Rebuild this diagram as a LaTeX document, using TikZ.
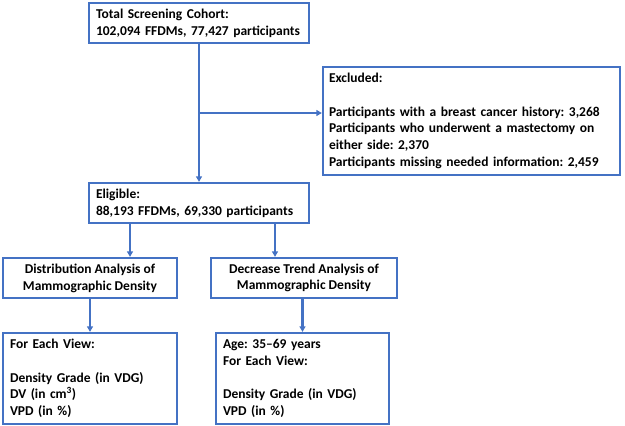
\documentclass[tikz,border=0pt]{standalone}
\usepackage{fontspec}
\setmainfont{Carlito}
\usetikzlibrary{arrows.meta,calc}
\definecolor{fcblue}{HTML}{4472C4}
\frenchspacing
\tikzset{
  box/.style={draw=fcblue, line width=2.3pt, rectangle, inner xsep=6pt, inner ysep=0pt,
    font=\bfseries\fontsize{13.5}{16.8}\selectfont},
  lbox/.style={box, align=left},
  cbox/.style={box, align=center},
  arr/.style={draw=fcblue, line width=2.2pt, -{Triangle[length=5.5pt,width=6pt]}},
}
\begin{document}
\begin{tikzpicture}[x=1pt,y=-1pt]
\useasboundingbox (0,0) rectangle (625,426);
\node[lbox, minimum width=220, minimum height=40, text width=206] (total) at (199,23)
  {Total Screening Cohort:\\102,094 FFDMs, 77,427 participants};
\node[lbox, minimum width=297, minimum height=108, text width=285] (excl) at (471.5,121)
  {Excluded:\\[16.5pt]Participants with a breast cancer history: 3,268\\Participants who underwent a mastectomy on\\either side: 2,370\\Participants missing needed information: 2,459};
\node[lbox, minimum width=220, minimum height=40, text width=206] (elig) at (199,203)
  {Eligible:\\88,193 FFDMs, 69,330 participants};
\node[cbox, minimum width=174, minimum height=40] (dist) at (90,278)
  {Distribution Analysis of\\Mammographic Density};
\node[cbox, minimum width=186, minimum height=40] (decr) at (304,278)
  {Decrease Trend Analysis of\\Mammographic Density};
\node[lbox, minimum width=174, minimum height=91, text width=160] (bl) at (90,378.5)
  {For Each View:\\[16.5pt]Density Grade (in VDG)\\DV (in cm\textsuperscript{3})\\VPD (in \%)};
\node[lbox, minimum width=173, minimum height=91, text width=159] (br) at (302.5,378.5)
  {Age: 35--69 years\\For Each View:\\[16.5pt]Density Grade (in VDG)\\VPD (in \%)};
\coordinate (branch) at (199,113);
\draw[arr] (total.south) -- (elig.north);
\draw[arr] (branch) -- (branch -| excl.west);
\coordinate (eL) at ([xshift=-69pt]elig.south);
\coordinate (eR) at ([xshift=76pt]elig.south);
\draw[arr] (eL) -- (eL |- dist.north);
\draw[arr] (eR) -- (eR |- decr.north);
\draw[arr] (dist.south) -- (bl.north);
\draw[arr] (decr.south -| br.north) -- (br.north);
\end{tikzpicture}
\end{document}
